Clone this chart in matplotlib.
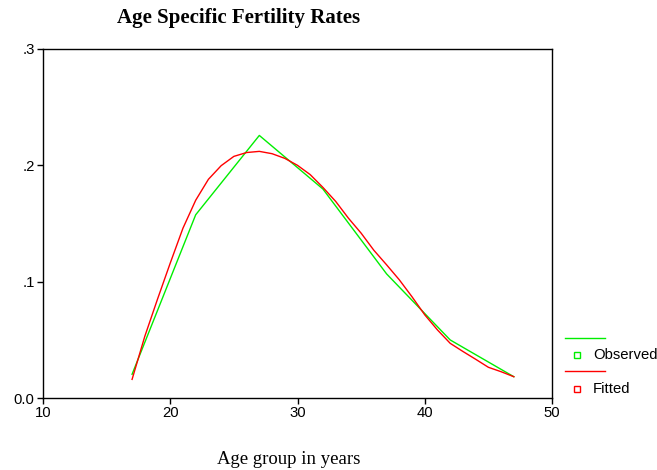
import matplotlib
matplotlib.use("Agg")
import matplotlib.pyplot as plt
from matplotlib.lines import Line2D

# data
obs_age = [17, 22, 27, 32, 37, 42, 47]
observed = [0.0204, 0.1575, 0.2257, 0.1796, 0.1067, 0.0499, 0.0183]

fit_age = list(range(17, 48))
fitted = [0.016, 0.053, 0.085, 0.116, 0.146, 0.170, 0.188, 0.1997, 0.2077, 0.211,
          0.212, 0.210, 0.206, 0.200, 0.192, 0.181, 0.169, 0.1546, 0.1417, 0.127,
          0.1145, 0.1016, 0.087, 0.0715, 0.0585, 0.047, 0.040, 0.0333, 0.0264,
          0.0226, 0.0183]

yticks = [0.0, 0.1, 0.2, 0.3]
ytick_labels = ["0.0", ".1", ".2", ".3"]
xticks = [10, 20, 30, 40, 50]

W, H = 657, 470
fig = plt.figure(figsize=(W / 100, H / 100), dpi=100)
ax = fig.add_axes([43 / W, 1 - 398 / H, (552 - 43) / W, (398 - 49) / H])

ax.plot(obs_age, observed, color="#00ee00", lw=1.0)
ax.plot(fit_age, fitted, color="#ff0000", lw=1.0)

ax.set_xlim(10, 50)
ax.set_ylim(0, 0.3)
ax.set_xticks(xticks)
ax.set_yticks(yticks)
ax.set_yticklabels(ytick_labels)
for lab in ax.get_xticklabels() + ax.get_yticklabels():
    lab.set_family("Liberation Sans")
    lab.set_fontsize(10.7)
ax.tick_params(direction="out", length=4, width=1, pad=2)
for s in ax.spines.values():
    s.set_linewidth(1.0)

fig.text(239 / W, 1 - 18 / H, "Age Specific Fertility Rates", ha="center", va="center",
         family="Liberation Serif", weight="bold", fontsize=15)
fig.text(289 / W, 1 - 459 / H, "Age group in years", ha="center", va="center",
         family="Liberation Serif", fontsize=13.5)

# legend drawn by hand, EViews style
def fx(px):
    return px / W

def fy(py):
    return 1 - py / H

items = [("Observed", "#00ee00", 338, 355), ("Fitted", "#ff0000", 371, 389)]
for label, col, ly, my in items:
    fig.add_artist(Line2D([fx(565), fx(605)], [fy(ly), fy(ly)], color=col, lw=1.0,
                          transform=fig.transFigure))
    fig.add_artist(Line2D([fx(577)], [fy(my)], marker="s", markersize=4, markerfacecolor="white",
                          markeredgecolor=col, markeredgewidth=1.0, linestyle="none",
                          transform=fig.transFigure))
    fig.text(fx(593), fy(my), label, ha="left", va="center",
             family="Liberation Sans", fontsize=10.7)

fig.savefig("out.png", dpi=100)
